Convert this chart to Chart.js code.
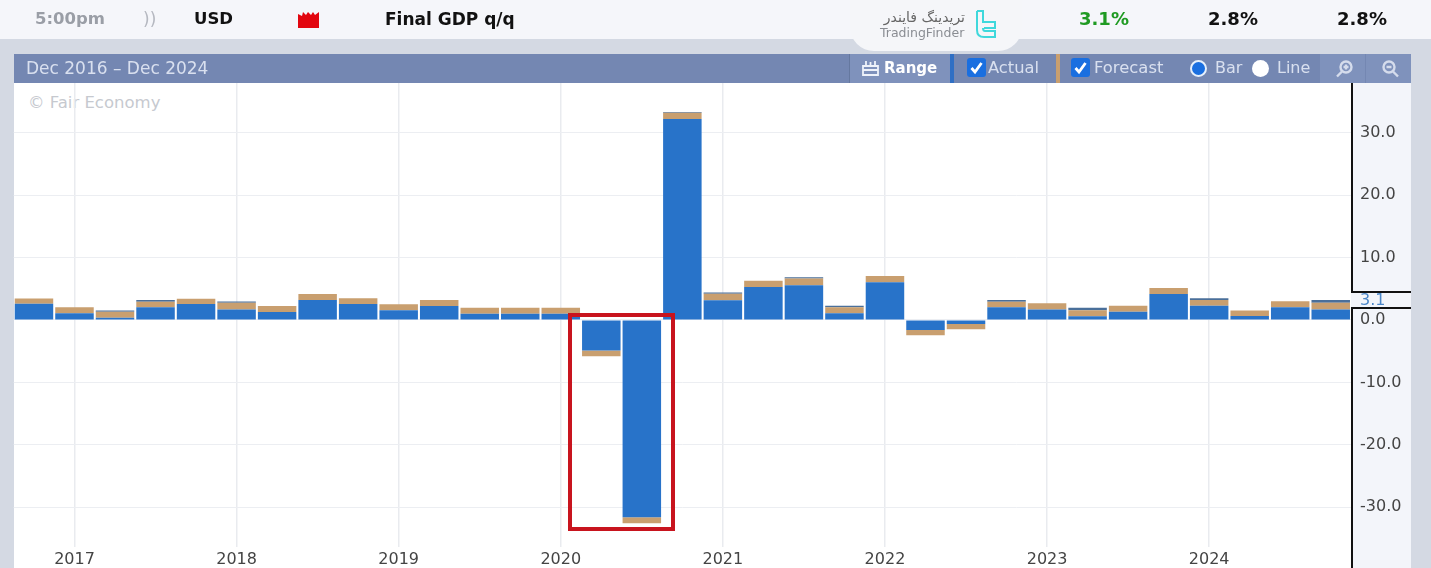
<!DOCTYPE html>
<html><head><meta charset="utf-8">
<script src="https://cdn.jsdelivr.net/npm/chart.js@4/dist/chart.umd.min.js"></script>
<style>
html,body{margin:0;padding:0;width:1431px;height:568px;overflow:hidden;background:#d4d9e3;font-family:"DejaVu Sans",sans-serif}
.a{position:absolute;white-space:nowrap}
canvas{position:absolute;left:0;top:0}
.t{font-size:17px;font-weight:bold;color:#111;line-height:20px;top:9px}
.h{color:#d9e0ef;font-size:16px;line-height:20px;top:58px}
.cb{width:19px;height:19px;background:#1a6fe0;border-radius:3px;top:58px}
.axisline{left:1351px;width:1.500px;background:#111}
</style></head><body>
<div class="a" style="left:0;top:0;width:1431px;height:39px;background:#f5f6fa"></div>
<div class="a" style="left:850px;top:0;width:172px;height:51px;background:#f5f6f9;border-radius:0 0 24px 24px"></div>
<div class="a" style="left:14px;top:83px;width:1337px;height:485px;background:#fff"></div>
<div class="a" style="left:1351px;top:83px;width:60px;height:485px;background:#f3f5fa"></div>
<div class="a" style="left:14px;top:54px;width:1397px;height:29px;background:#7487b2"></div>
<div class="a" style="left:849px;top:54px;width:101px;height:29px;background:#7f92bc;border-left:1px solid #65789f"></div>
<div class="a" style="left:950px;top:54px;width:4px;height:29px;background:#2f6fc4"></div>
<div class="a" style="left:1056px;top:54px;width:4px;height:29px;background:#c99f6f"></div>
<div class="a" style="left:1320px;top:54px;width:45px;height:29px;background:#7f92bc"></div>
<div class="a" style="left:1366px;top:54px;width:45px;height:29px;background:#7f92bc"></div>

<div class="a" style="left:28px;top:93px;font-size:16.500px;color:#c6c9cf;line-height:20px">© Fair Economy</div>
<canvas id="c" width="1431" height="568"></canvas>

<div class="a t" style="left:35px;color:#9a9ea6;font-size:16.500px">5:00pm</div>
<div class="a t" style="left:143px;color:#b5b8c0;font-weight:normal">))</div>
<div class="a t" style="left:194px;font-size:16.500px">USD</div>
<svg class="a" style="left:298px;top:11px" width="22" height="17"><path d="M0 17V3l4 2 1-4 3 3 2-3 3 3 2-3 2 3 4-3v16z" fill="#e2060f"/></svg>
<div class="a t" style="left:385px">Final GDP q/q</div>
<div class="a" style="left:880px;top:8px;font-size:14px;color:#666;line-height:18px;width:85px;text-align:right">تریدینگ فایندر</div>
<div class="a" style="left:880px;top:25px;font-size:12.500px;color:#8a8d93;line-height:16px">TradingFinder</div>
<svg class="a" style="left:975px;top:9px" width="22" height="30" fill="none" stroke="#3fd8dc" stroke-width="2"><path d="M2 2h6v11h12v6H9M2 2v19q0 7 7 7h11v-6H10q-2 0-2-3"/></svg>
<div class="a t" style="left:1079px;color:#1f9a22;font-size:18px">3.1%</div>
<div class="a t" style="left:1208px;font-size:18px">2.8%</div>
<div class="a t" style="left:1337px;font-size:18px">2.8%</div>

<div class="a h" style="left:26px;font-size:17px">Dec 2016 – Dec 2024</div>
<svg class="a" style="left:861px;top:59px" width="19" height="17" fill="none" stroke="#eef2fa" stroke-width="1.800"><path d="M2 7h15v9H2zM2 11h15M5 7V2M14 7V2M9.500 7V3"/></svg>
<div class="a h" style="left:884px;color:#fff;font-weight:bold;font-size:15px">Range</div>
<svg class="a cb" style="left:967px" viewBox="0 0 19 19"><path d="M4.500 10l3.500 4 6.500-9" fill="none" stroke="#fff" stroke-width="2.800"/></svg>
<div class="a h" style="left:988px;font-size:16.300px">Actual</div>
<svg class="a cb" style="left:1071px" viewBox="0 0 19 19"><path d="M4.500 10l3.500 4 6.500-9" fill="none" stroke="#fff" stroke-width="2.800"/></svg>
<div class="a h" style="left:1094px;font-size:16.400px">Forecast</div>
<div class="a" style="left:1190px;top:60px;width:13px;height:13px;border:2.500px solid #e6f0fb;border-radius:50%;background:#1a6fe0"></div>
<div class="a h" style="left:1215px">Bar</div>
<div class="a" style="left:1252px;top:60px;width:17px;height:17px;border-radius:50%;background:#fff"></div>
<div class="a h" style="left:1277px">Line</div>
<svg class="a" style="left:1335px;top:59px" width="20" height="19" fill="none" stroke="#d5dcec" stroke-width="2.400"><circle cx="11" cy="8" r="5.500"/><path d="M7 12.500l-5 5M8.500 8h5M11 5.500v5"/></svg>
<svg class="a" style="left:1381px;top:59px" width="20" height="19" fill="none" stroke="#d5dcec" stroke-width="2.400"><circle cx="8" cy="8" r="5.500"/><path d="M12 12.500l5 5M5.500 8h5"/></svg>

<div class="a axisline" style="top:83px;height:209px"></div>
<div class="a axisline" style="top:307px;height:261px"></div>
<div class="a" style="left:1351px;top:291px;width:60px;height:1.500px;background:#111"></div>
<div class="a" style="left:1351px;top:307px;width:60px;height:1.500px;background:#111"></div>
<div class="a" style="left:1360px;top:291px;font-size:16px;line-height:18px;color:#4a86c8">3.1</div>
<div class="a" style="left:568px;top:313px;width:99px;height:210px;border:4px solid #c8141e"></div>

<script>
const categories=["Dec 2016","Mar 2017","Jun 2017","Sep 2017","Dec 2017","Mar 2018","Jun 2018","Sep 2018","Dec 2018","Mar 2019","Jun 2019","Sep 2019","Dec 2019","Mar 2020","Jun 2020","Sep 2020","Dec 2020","Mar 2021","Jun 2021","Sep 2021","Dec 2021","Mar 2022","Jun 2022","Sep 2022","Dec 2022","Mar 2023","Jun 2023","Sep 2023","Dec 2023","Mar 2024","Jun 2024","Sep 2024","Dec 2024"];
const actualValues=[2.6,1.07,0.37,2.03,2.57,1.7,1.28,3.2,2.57,1.55,2.25,1.0,1.0,1.0,-4.9,-31.6,32.2,3.15,5.3,5.56,1.07,6.04,-1.6,-0.64,2.03,1.7,0.6,1.34,4.17,2.3,0.64,2.03,1.7];
const forecastValues=[0.85,0.96,0.96,0.9,0.85,1.07,0.96,0.96,0.9,0.96,0.96,0.96,0.96,0.96,-0.9,-0.96,1.0,1.07,1.0,1.07,0.96,1.0,-0.86,-0.86,0.9,1.0,0.96,0.96,0.96,0.9,0.9,0.96,1.07];
const capValues=[0,0,0.2,0.27,0,0.2,0,0,0,0,0,0,0,0,0,0,0.15,0.2,0,0.2,0.27,0,0,0,0.27,0,0.4,0,0,0.27,0,0,0.43];
const yearTickMonth="Mar";
new Chart(document.getElementById('c'),{
  type:'bar',
  data:{labels:categories,datasets:[
    {label:'Actual',data:actualValues,backgroundColor:'#2873c9'},
    {label:'Forecast',data:forecastValues,backgroundColor:'#c99f6f'},
    {label:'Edge',data:capValues,backgroundColor:'#4a6f9a'}
  ]},
  options:{
    responsive:false,animation:false,
    layout:{padding:{left:13.7,top:83,right:20,bottom:0}},
    datasets:{bar:{barPercentage:0.95,categoryPercentage:1}},
    plugins:{legend:{display:false},tooltip:{enabled:false}},
    scales:{
      x:{stacked:true,offset:true,
        afterBuildTicks:s=>{s.ticks=s.ticks.filter(t=>categories[t.value].startsWith(yearTickMonth));},
        afterFit:s=>{s.height=21;},
        grid:{offset:false,color:'#e9ebef',lineWidth:1.5,drawTicks:false},border:{display:false},
        ticks:{autoSkip:false,maxRotation:0,padding:3,color:'#444',font:{family:'DejaVu Sans',size:16},
          callback(v){return this.getLabelForValue(v).slice(-4);}}},
      y:{position:'right',stacked:true,min:-36.38,max:37.98,
        afterFit:s=>{s.width=60;},
        grid:{color:'#eceef2',drawTicks:false},border:{display:false},
        ticks:{stepSize:10,includeBounds:false,padding:9,color:'#444',font:{family:'DejaVu Sans',size:16},
          callback:v=>v.toFixed(1)}}
    }
  }
});
</script>
</body></html>
